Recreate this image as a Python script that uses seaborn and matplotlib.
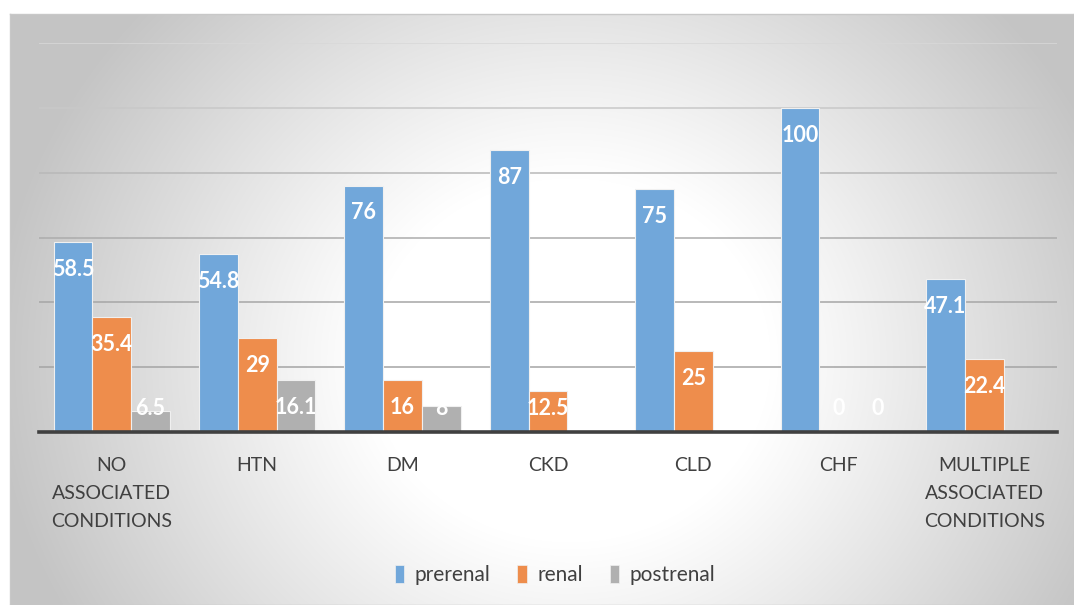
import numpy as np
import pandas as pd
import matplotlib
matplotlib.use("Agg")
import matplotlib.pyplot as plt
import seaborn as sns
from matplotlib.patches import Patch

categories = ["NO\nASSOCIATED\nCONDITIONS", "HTN", "DM", "CKD", "CLD", "CHF",
              "MULTIPLE\nASSOCIATED\nCONDITIONS"]
series_names = ["prerenal", "renal", "postrenal"]
prerenal = [58.5, 54.8, 76, 87, 75, 100, 47.1]
renal = [35.4, 29, 16, 12.5, 25, 0, 22.4]
postrenal = [6.5, 16.1, 8, np.nan, np.nan, 0, np.nan]
y_ticks = [0, 20, 40, 60, 80, 100, 120]

colors = ["#71A7DA", "#EE8D4C", "#B0B0B0"]

rows = []
for name, vals in zip(series_names, [prerenal, renal, postrenal]):
    for c, v in zip(categories, vals):
        rows.append({"category": c, "type": name, "value": v})
df = pd.DataFrame(rows)

sns.set_theme(style="white")
plt.rcParams["font.family"] = ["Lato", "DejaVu Sans"]

W, H = 1074, 605
fig = plt.figure(figsize=(W / 100, H / 100), dpi=100)
fig.patch.set_facecolor("white")

# radial gradient background
bx0, by0 = 10, 14
bg = fig.add_axes([bx0 / W, 0, 1 - bx0 / W, 1 - by0 / H], zorder=-10)
xx, yy = np.meshgrid(np.arange(bx0, W), np.arange(by0, H))
r = np.sqrt((xx - 570.0) ** 2 + ((yy - 360.0) * 1.1) ** 2)
t = np.clip((r - 200) / 380.0, 0, 1) ** 1.05
g = 255 - t * (255 - 196)
img = np.dstack([g, g, g]) / 255.0
bg.imshow(img, aspect="auto", extent=[0, 1, 0, 1], interpolation="bilinear")
bg.set_xticks([]); bg.set_yticks([])
for s in bg.spines.values():
    s.set_color("#c8c8c8"); s.set_linewidth(1)

ax = fig.add_axes([39 / W, 1 - 432 / H, (1057 - 39) / W, (432 - 43) / H])
ax.patch.set_alpha(0)

sns.barplot(data=df, x="category", y="value", hue="type", order=categories,
            hue_order=series_names, palette=colors, saturation=1, width=0.8,
            edgecolor="#f0f0f0", linewidth=0.8, ax=ax, zorder=3, errorbar=None)

ax.set_ylim(y_ticks[0], y_ticks[-1])
ax.set_yticks(y_ticks)
ax.set_yticklabels([])
ax.tick_params(axis="y", length=0)
ax.yaxis.grid(True, linewidth=1.1, zorder=0)
grid_cols = ["#a8a8a8", "#a4a4a4", "#a6a6a6", "#acacac", "#b8b8b8", "#c8c8c8", "#d8d8d8"]
for gl, c in zip(ax.yaxis.get_gridlines(), grid_cols):
    gl.set_color(c)
ax.set_axisbelow(True)
ax.set_xlabel(""); ax.set_ylabel("")
for s in ["left", "right", "top"]:
    ax.spines[s].set_visible(False)
ax.spines["bottom"].set_color("#404040")
ax.spines["bottom"].set_linewidth(2.6)
ax.spines["bottom"].set_zorder(5)
ax.tick_params(axis="x", length=0, pad=18, labelsize=14, labelcolor="#404040")
for lab in ax.get_xticklabels():
    lab.set_linespacing(1.8)
    lab.set_verticalalignment("top")

# data labels
for cont in ax.containers:
    for bar in cont:
        h = bar.get_height()
        if np.isnan(h):
            continue
        xc = bar.get_x() + bar.get_width() / 2
        yl = max(h - 8.4, 7.4)
        txt = f"{h:g}"
        ax.text(xc, yl, txt, ha="center", va="center", color="white",
                fontsize=15.5, fontweight="bold", zorder=6)

if ax.get_legend() is not None:
    ax.get_legend().remove()
handles = [Patch(facecolor=c, edgecolor="#f0f0f0", linewidth=0.5) for c in colors]
fig.legend(handles, series_names, loc="center", bbox_to_anchor=(555 / W, 1 - 575 / H),
           ncol=3, frameon=False, fontsize=15, labelcolor="#404040",
           handlelength=0.45, handleheight=1.0, handletextpad=0.5, columnspacing=1.3)

fig.savefig("out.png", dpi=100)
